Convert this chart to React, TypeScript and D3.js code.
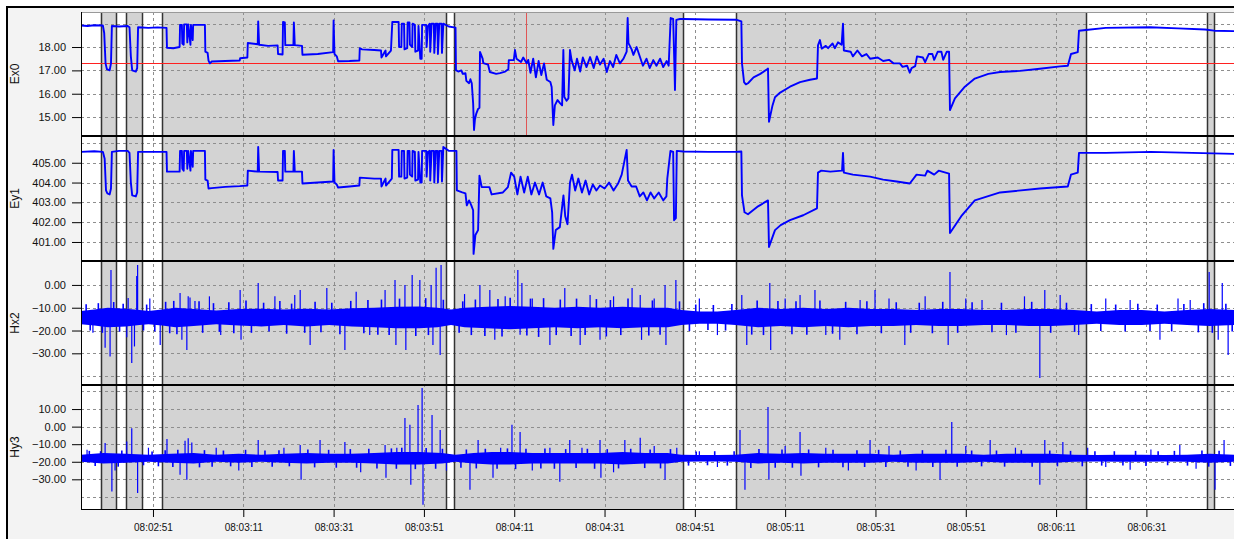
import React, { useEffect, useRef } from 'react';
import * as d3 from 'd3';

// time values are seconds after 08:02:00
const timeTickLabels = ['08:02:51', '08:03:11', '08:03:31', '08:03:51', '08:04:11', '08:04:31', '08:04:51', '08:05:11', '08:05:31', '08:05:51', '08:06:11', '08:06:31'];
const timeStart = 35.06;
const timeEnd = 290.4;

// gray (selected) segments [start, end]
const segments: [number, number][] = [[39.48, 42.81], [45.02, 48.56], [52.99, 115.89], [117.66, 168.37], [180.11, 257.62], [284.42, 285.97]];

const cursorTime = 133.6;
const cursorEx0 = 17.33;

const channelNames = ['Ex0', 'Ey1', 'Hx2', 'Hy3'];
const channelDomains: [number, number][] = [[14.19, 19.5], [400.04, 406.35], [-43.9, 10.5], [-46.9, 23.7]];
const channelGrid = [[19, 18, 17, 16, 15], [406, 405, 404, 403, 402, 401], [0, -10, -20, -30, -40], [20, 10, 0, -10, -20, -30, -40]];
const channelTicks = [[18, 17, 16, 15], [405, 404, 403, 402, 401], [0, -10, -20, -30], [10, 0, -10, -20, -30]];

const ex0Data: [number, number][] = [
  [35.06, 18.92], [36.5, 18.9], [38.0, 18.93], [39.9, 18.92], [40.2, 18.6], [40.5, 17.3], [40.8, 17.05], [41.4, 17.0], [41.7, 17.3], [41.9, 18.9],
  [43.5, 18.88], [45.4, 18.9], [45.8, 18.85], [46.1, 17.6], [46.4, 17.0], [47.2, 16.95], [47.5, 17.1], [47.7, 18.85], [50.0, 18.82], [52.0, 18.84],
  [54.0, 18.82], [54.1, 17.97], [55.5, 17.95], [56.9, 18.0], [57.0, 18.95], [57.4, 18.95], [57.5, 18.15], [57.8, 18.1], [57.9, 18.97], [58.5, 18.97],
  [58.6, 18.2], [58.8, 18.97], [59.3, 18.1], [59.4, 18.95], [59.8, 18.3], [59.9, 18.95], [62.5, 18.95], [62.6, 17.8], [63.1, 17.75], [63.3, 17.42],
  [63.6, 17.3], [64.0, 17.38], [67.0, 17.4], [70.2, 17.42], [70.3, 17.52], [71.9, 17.55], [72.0, 18.17], [74.2, 18.12], [74.3, 19.1], [74.5, 18.1],
  [76.5, 18.05], [78.6, 18.07], [78.7, 17.7], [79.7, 17.68], [79.8, 19.07], [80.2, 19.05], [80.3, 18.08], [82.1, 18.08], [82.2, 19.05], [82.4, 18.08],
  [84.0, 18.05], [84.1, 17.67], [87.5, 17.7], [90.9, 17.78], [91.0, 19.14], [91.2, 17.7], [91.7, 17.6], [92.0, 17.39], [94.5, 17.4], [96.7, 17.42],
  [96.8, 17.95], [97.3, 17.9], [100.0, 17.87], [101.5, 17.85], [101.6, 17.55], [102.5, 17.85], [102.6, 17.6], [103.7, 17.85], [104.0, 19.07], [105.4, 19.07],
  [105.5, 18.0], [106.0, 18.0], [106.1, 19.0], [106.6, 19.0], [106.7, 17.9], [107.3, 17.95], [107.4, 19.05], [107.8, 19.05], [107.9, 18.1], [108.4, 18.0],
  [108.5, 19.0], [109.0, 18.95], [109.1, 17.8], [109.7, 17.85], [109.8, 18.9], [110.2, 17.5], [110.5, 17.5], [110.6, 18.95], [111.5, 18.95], [111.6, 18.0],
  [111.9, 18.9], [112.3, 19.0], [112.4, 17.8], [112.7, 19.0], [113.2, 19.0], [113.3, 17.75], [113.6, 19.0], [114.0, 19.0], [114.1, 17.7], [114.4, 19.0],
  [114.9, 19.0], [115.0, 17.75], [115.3, 19.0], [116.5, 18.88], [118.0, 18.83], [118.1, 17.01], [118.6, 16.95], [119.3, 17.0], [119.6, 16.85], [120.2, 16.88],
  [120.4, 16.55], [121.0, 16.45], [121.3, 16.62], [121.6, 16.45], [121.9, 15.6], [122.1, 14.45], [122.3, 14.9], [122.6, 15.15], [123.0, 15.35], [123.3, 15.4],
  [123.42, 17.79], [124.0, 17.5], [124.15, 17.31], [125.2, 17.25], [125.6, 16.93], [127.0, 16.85], [127.85, 16.88], [129.0, 16.95], [129.7, 17.05], [129.8, 17.44],
  [130.9, 17.44], [131.17, 17.87], [131.5, 17.5], [132.5, 17.36], [133.0, 17.55], [133.76, 17.31], [134.1, 17.45], [134.6, 16.9], [135.2, 17.5], [135.8, 16.7],
  [136.4, 17.4], [137.0, 16.8], [137.6, 17.3], [138.2, 16.6], [139.0, 16.5], [139.29, 16.29], [139.66, 14.66], [140.0, 15.5], [140.6, 15.73], [141.14, 15.6],
  [141.6, 15.5], [141.88, 17.87], [142.1, 15.86], [142.6, 15.7], [143.0, 15.8], [143.35, 17.87], [143.7, 17.44], [144.4, 17.0], [144.9, 17.5], [145.6, 16.95],
  [146.2, 17.55], [147.0, 17.14], [147.8, 17.57], [148.6, 17.1], [149.3, 17.6], [150.0, 17.25], [150.8, 17.5], [151.5, 16.93], [152.2, 17.4], [152.9, 17.14],
  [153.6, 17.66], [154.4, 17.3], [155.2, 17.5], [155.9, 17.8], [156.12, 19.24], [156.3, 18.17], [157.0, 17.9], [157.4, 17.66], [158.1, 18.0], [158.85, 17.57],
  [159.5, 17.2], [160.3, 17.5], [161.0, 17.1], [161.8, 17.44], [162.5, 17.2], [163.3, 17.5], [164.0, 17.14], [164.76, 17.4], [165.2, 17.2], [165.65, 19.24],
  [166.2, 19.2], [166.5, 17.0], [166.6, 16.16], [166.9, 19.16], [167.7, 19.2], [168.45, 19.2], [174.0, 19.18], [180.1, 19.17], [181.3, 19.1], [181.44, 17.3],
  [181.9, 16.5], [182.3, 16.4], [182.77, 16.45], [184.0, 16.7], [185.5, 16.85], [187.0, 17.05], [187.2, 17.08], [187.42, 14.8], [188.2, 15.5], [188.75, 15.85],
  [189.9, 16.05], [192.07, 16.3], [194.3, 16.5], [196.5, 16.6], [198.05, 16.65], [198.27, 18.07], [198.7, 18.3], [199.1, 17.93], [200.0, 18.05], [200.5, 17.95],
  [201.5, 18.15], [202.0, 17.95], [202.7, 18.2], [203.5, 18.1], [203.81, 19.0], [204.0, 17.85], [205.5, 17.8], [206.0, 17.6], [207.0, 17.85], [208.0, 17.6],
  [209.0, 17.7], [209.8, 17.5], [211.5, 17.55], [212.7, 17.4], [214.0, 17.45], [215.0, 17.3], [216.4, 17.3], [217.0, 17.15], [218.0, 17.2], [218.6, 16.9],
  [219.0, 17.1], [219.8, 17.18], [220.2, 17.6], [221.5, 17.55], [222.0, 17.35], [222.8, 17.7], [223.6, 17.7], [224.0, 17.45], [224.8, 17.8], [225.6, 17.8],
  [226.0, 17.45], [226.8, 17.8], [227.3, 17.8], [227.5, 15.3], [228.6, 15.8], [230.8, 16.3], [233.0, 16.65], [236.0, 16.85], [238.6, 16.93], [243.0, 16.98],
  [247.4, 17.07], [251.9, 17.17], [253.6, 17.2], [254.3, 17.7], [255.8, 17.78], [256.07, 18.7], [257.6, 18.73], [262.0, 18.82], [271.8, 18.85], [278.0, 18.8],
  [284.0, 18.75], [286.0, 18.7], [290.4, 18.68],
];

const ey1Data: [number, number][] = [
  [35.06, 405.55], [38.0, 405.58], [39.9, 405.55], [40.3, 405.2], [40.6, 403.6], [40.9, 403.45], [41.4, 403.4], [41.7, 403.7], [41.9, 405.55], [43.5, 405.6],
  [45.4, 405.6], [45.8, 405.5], [46.1, 404.0], [46.4, 403.35], [47.2, 403.3], [47.5, 403.5], [47.7, 405.55], [51.0, 405.55], [54.0, 405.55], [54.1, 404.55],
  [56.9, 404.55], [57.0, 405.6], [57.4, 405.6], [57.5, 404.7], [57.8, 404.6], [57.9, 405.6], [58.5, 405.6], [58.6, 404.7], [58.8, 405.6], [59.3, 404.6],
  [59.4, 405.6], [59.8, 404.8], [59.9, 405.6], [62.5, 405.6], [62.6, 404.15], [63.1, 404.1], [63.3, 403.7], [64.0, 403.72], [67.0, 403.78], [70.2, 403.82],
  [71.9, 403.85], [72.0, 404.6], [74.2, 404.55], [74.3, 405.8], [74.5, 404.55], [78.6, 404.53], [78.7, 404.1], [79.7, 404.1], [79.8, 405.6], [80.2, 405.6],
  [80.3, 404.55], [82.1, 404.55], [82.2, 405.6], [82.4, 404.55], [84.0, 404.55], [84.1, 403.95], [87.5, 404.0], [90.9, 404.05], [91.0, 405.65], [91.2, 404.0],
  [91.7, 403.9], [92.0, 403.75], [94.5, 403.8], [96.7, 403.85], [96.8, 404.25], [100.0, 404.2], [101.5, 404.2], [101.6, 403.8], [102.5, 404.2], [102.6, 403.85],
  [103.9, 404.2], [104.0, 405.65], [105.4, 405.65], [105.5, 404.3], [106.0, 404.3], [106.1, 405.6], [106.6, 405.6], [106.7, 404.2], [107.3, 404.25], [107.4, 405.6],
  [107.8, 405.6], [107.9, 404.4], [108.4, 404.3], [108.5, 405.6], [109.0, 405.55], [109.1, 404.1], [109.7, 404.15], [109.8, 405.55], [110.2, 404.0], [110.5, 404.0],
  [110.6, 405.6], [111.5, 405.6], [111.6, 404.3], [111.9, 405.55], [112.3, 405.6], [112.4, 404.1], [112.7, 405.6], [113.2, 405.6], [113.3, 404.0], [113.6, 405.6],
  [114.0, 405.6], [114.1, 404.0], [114.4, 405.6], [114.9, 405.6], [115.0, 404.05], [115.3, 405.8], [116.5, 405.6], [118.2, 405.6], [118.3, 403.6], [119.5, 403.5],
  [120.2, 403.45], [120.5, 402.85], [121.0, 403.1], [121.5, 402.85], [121.9, 402.6], [122.0, 400.4], [122.4, 401.35], [123.0, 401.6], [123.3, 404.35], [123.8, 403.77],
  [125.5, 403.77], [126.0, 403.4], [128.5, 403.5], [129.6, 403.77], [130.3, 404.5], [131.0, 404.3], [131.7, 403.4], [132.4, 404.3], [133.2, 403.5], [134.0, 404.3],
  [134.8, 403.4], [135.6, 404.0], [136.5, 403.4], [137.3, 404.0], [138.1, 403.3], [139.0, 403.2], [139.4, 402.5], [139.66, 400.65], [140.2, 401.6], [141.1, 401.75],
  [141.9, 403.35], [142.3, 402.3], [142.8, 401.9], [143.35, 404.0], [143.8, 404.4], [144.5, 403.6], [145.2, 404.2], [146.0, 403.5], [146.8, 404.1], [147.6, 403.4],
  [148.4, 403.9], [149.2, 403.6], [150.0, 403.85], [151.0, 403.7], [152.0, 404.0], [153.0, 403.6], [154.0, 403.95], [154.8, 404.4], [155.9, 405.65], [156.2, 404.1],
  [157.0, 403.8], [158.0, 403.8], [158.8, 403.3], [159.6, 403.5], [160.4, 403.1], [161.2, 403.5], [162.0, 403.2], [163.0, 403.5], [164.0, 403.1], [164.7, 403.3],
  [164.9, 404.2], [165.6, 405.6], [166.2, 405.55], [166.4, 402.1], [166.8, 402.2], [167.0, 405.6], [168.4, 405.57], [174.0, 405.55], [180.1, 405.55], [181.3, 405.57],
  [181.44, 403.35], [182.0, 402.5], [182.77, 402.4], [185.0, 402.8], [187.2, 403.1], [187.42, 400.75], [188.75, 401.6], [190.0, 401.85], [192.07, 402.1], [195.0, 402.35],
  [198.05, 402.7], [198.27, 404.5], [199.0, 404.6], [201.0, 404.55], [203.6, 404.6], [203.81, 405.5], [204.0, 404.5], [206.0, 404.4], [209.8, 404.3], [212.7, 404.15],
  [215.7, 404.05], [218.6, 403.95], [220.1, 404.4], [222.0, 404.35], [222.5, 404.6], [224.0, 404.4], [225.0, 404.6], [227.3, 404.45], [227.5, 401.45], [230.0, 402.3],
  [233.0, 403.1], [238.6, 403.5], [247.4, 403.7], [253.6, 403.8], [254.3, 404.4], [255.8, 404.5], [256.07, 405.5], [262.0, 405.5], [272.0, 405.55], [290.4, 405.45],
];

// noise envelope [time, low, high]
const hx2Band: [number, number, number][] = [
  [35.06, -17.2, -11.4], [38, -17.8, -10.8], [41, -18.6, -10], [45, -18.2, -10.4], [48, -17.6, -11], [50, -17.2, -11.4], [53, -17.8, -10.8], [56, -18.6, -10],
  [60, -18, -10.6], [65, -17.2, -11.2], [70, -17.8, -10.6], [75, -18.2, -10.4], [80, -17.6, -10.8], [85, -18.2, -10.4], [90, -17.6, -10.8], [95, -18.2, -10.2],
  [100, -18.6, -10], [105, -19, -9.6], [110, -19, -9.5], [114, -18.6, -10], [117, -17.6, -10.8], [120, -18.6, -10], [125, -19, -9.6], [130, -19.4, -9.2],
  [135, -19, -9.6], [140, -18.6, -10], [145, -19, -9.6], [150, -18.6, -10], [155, -19, -9.6], [160, -18.6, -10], [165, -18.6, -10], [168, -17.6, -11],
  [172, -17, -11.6], [176, -17, -11.6], [180, -17.6, -11], [185, -18.6, -10], [190, -18, -10.6], [195, -18.6, -10], [200, -18, -10.6], [205, -18.6, -10],
  [210, -18, -10.6], [215, -18, -10.6], [220, -17.6, -11], [225, -18, -10.6], [230, -18, -10.6], [235, -17.6, -11], [240, -17.6, -11], [245, -18, -10.6],
  [250, -18, -10.6], [255, -17.6, -11], [260, -17, -11.6], [265, -17.6, -11], [270, -17.6, -11], [275, -17, -11.6], [280, -17.6, -11], [285, -18, -10.6],
  [290.4, -17.6, -11],
];
const hx2Spikes: [number, number][] = [
  [37.7, -21], [40.4, -27.6], [41.5, -31.4], [41.7, 6.6], [45.2, -23], [45.5, -5.7], [46.3, -34.2], [46.9, -27], [47.4, 3.9], [47.6, 8.8],
  [50.3, -6], [52.6, -26.3], [57.0, -3.5], [57.4, -24], [58.5, -28.5], [58.8, -5], [59.2, -5.5], [60.3, -7], [63.5, -5], [66, -22],
  [70.3, -2.2], [70.5, -24.1], [74.3, 0.9], [78, -5], [82.4, -4.4], [83.6, -2.2], [85.8, -26.3], [89.5, -1.3], [93.5, -28.5], [96, -3],
  [99, -22], [102.4, -2.2], [104.6, 2.2], [104.8, -26.3], [106.8, 0], [107.0, -28.5], [108.4, 4.4], [110.1, 2.2], [112.6, 0], [113.0, -26.3],
  [113.7, 7.5], [114.6, -30.7], [114.8, 8.8], [120, -4], [123.4, 0], [125.6, -2.2], [126.7, -24.1], [129, -5], [131.8, 6.6], [132.3, -21.9],
  [132.7, 0.9], [135, -6], [138.9, -26.3], [142.2, -1.3], [145.6, -26.3], [147.8, -4.4], [150.0, -24.1], [153, -5], [157.1, -1.3], [158.9, -4.4],
  [159.2, -24.1], [162, -6], [164.4, 0], [164.6, -26.3], [166.8, 2.2], [172, -6], [176, -22], [181.4, -4.4], [182.5, -26.3], [187.6, 0.9],
  [187.8, -28.5], [191, -6], [194.3, -4.4], [197.6, -2.2], [200, -22], [203.1, -24.1], [207.6, -6.6], [210.9, -2.2], [214, -6], [217.5, -26.3],
  [222, -5], [227.1, -26.3], [227.5, 5.7], [231, -6], [234.6, -6.6], [240, -22], [244, -5], [247.4, -40.8], [248.5, -2.2], [251.9, -4.4],
  [256, -22], [262, -6], [267.4, -6.6], [274.0, -24.1], [278, -6], [280.7, -6.6], [284.9, 5.7], [286.9, -24.1], [287.8, 0.9], [289.1, -30.7],
];
// short excursions just outside the noise band
const hx2Ripple: [number, number][] = [
  [36.2, -8.5], [37.1, -20], [38.9, -8], [39.8, -21], [42.3, -7.5], [43.6, -20.5], [44.4, -8.2], [48.9, -20], [49.6, -8.6], [51.4, -20.4],
  [53.8, -7.4], [54.7, -21.2], [55.6, -7], [56.3, -21.6], [61.2, -7.2], [62.0, -21], [64.4, -8], [65.7, -20.6], [67.8, -7.6], [68.9, -21.2],
  [71.6, -6.8], [72.8, -21], [75.5, -7.8], [76.7, -20.4], [79.1, -7], [80.6, -21.4], [81.7, -8.2], [84.6, -21], [86.9, -7.4], [88.2, -20.8],
  [90.6, -7.8], [92.4, -21.6], [94.8, -7], [97.7, -21.2], [98.6, -6.6], [100.8, -21.8], [101.6, -6.4], [103.3, -22], [105.6, -6], [109.2, -22.4],
  [111.4, -5.8], [112.0, -22], [115.3, -6.5], [118.8, -21], [119.6, -7.2], [121.5, -22], [122.4, -6.4], [124.5, -22.4], [127.4, -6.2], [128.3, -22.6],
  [130.1, -5.6], [133.8, -22.2], [134.6, -6], [136.4, -22.8], [137.5, -5.8], [140.3, -22], [141.2, -6.4], [143.6, -22.4], [144.8, -6], [146.7, -22],
  [149.2, -6.2], [151.4, -22.6], [152.3, -6.6], [154.6, -22], [156.2, -6], [160.8, -22.2], [161.6, -6.8], [163.3, -21.8], [167.6, -7.2], [169.8, -20.2],
  [171.2, -8.6], [173.9, -19.8], [175.1, -8.8], [177.8, -20], [179.2, -8.4], [183.6, -21.8], [184.8, -6.8], [186.2, -22], [189.4, -7], [192.5, -21.6],
  [193.4, -7.2], [195.8, -21.8], [198.7, -6.8], [201.5, -21.4], [204.4, -7.4], [206.9, -21.6], [209.1, -7.2], [212.3, -21.2], [215.6, -7.6], [218.8, -21],
  [220.7, -7.8], [223.6, -21.2], [225.9, -7.4], [229.2, -21], [232.4, -7.6], [236.8, -20.8], [238.9, -7.8], [242.1, -21], [245.6, -7.4], [249.8, -21],
  [253.3, -7.8], [255.1, -20.6], [258.8, -8.4], [260.9, -20.2], [264.2, -8.6], [266.3, -20.4], [269.1, -8.2], [271.8, -20.2], [273.4, -8.6], [276.6, -20.4],
  [279.3, -8.4], [282.5, -20.8], [283.7, -8], [285.6, -21], [288.6, -8.2], [290.0, -20.4],
];
const hx2Center = -14.2;

const hy3Band: [number, number, number][] = [
  [35.06, -20, -16], [40, -21, -15], [45, -20.5, -15.5], [50, -20, -16], [55, -20.5, -15.5], [60, -21, -15], [65, -20, -16], [70, -20.5, -15.5],
  [75, -20, -16], [80, -20.5, -15.5], [85, -21, -15], [90, -20.5, -15.5], [95, -20.5, -15.5], [100, -21, -15], [105, -21.5, -14.5], [110, -21.5, -14.5],
  [115, -21, -15], [118, -20, -16], [122, -21, -15], [126, -21.5, -14.5], [130, -21.5, -14.5], [135, -21, -15], [140, -21, -15], [145, -21, -15],
  [150, -21, -15], [155, -21.5, -14.5], [160, -21, -15], [165, -21, -15], [168, -20, -16], [172, -19.8, -16.2], [176, -19.8, -16.2], [180, -20, -16],
  [185, -21, -15], [190, -20.5, -15.5], [195, -21, -15], [200, -20.5, -15.5], [205, -20.5, -15.5], [210, -20.5, -15.5], [215, -20, -16], [220, -20.5, -15.5],
  [225, -20.5, -15.5], [230, -20.5, -15.5], [235, -20, -16], [240, -20.5, -15.5], [245, -20.5, -15.5], [250, -20.5, -15.5], [255, -20, -16], [260, -19.8, -16.2],
  [265, -20, -16], [270, -20, -16], [275, -19.8, -16.2], [280, -20, -16], [285, -20.5, -15.5], [290.4, -20, -16],
];
const hy3Spikes: [number, number][] = [
  [36.4, -13.2], [40.4, -9.3], [41.9, -36.9], [42.6, -25], [45.2, -8.5], [46.3, -0.9], [47.6, -37.8], [50, -12], [54.1, -7], [57.0, -27.4],
  [58.1, -8], [58.5, -30.3], [58.8, -6.6], [59.6, -9], [65, -12], [70, -25], [74.3, -7.6], [80, -12], [83.6, -10.4], [83.8, -30.3],
  [88.0, -7.6], [93.5, -8.7], [97, -26], [102.4, -10.4], [102.6, -29.1], [105, -12], [106.8, 4.9], [107.9, 1.0], [108.1, -33.1], [109.7, 12.3],
  [110.6, 22], [110.8, -44.5], [112.8, 6.6], [114.6, -1.9], [116, -25], [121.2, -36], [123.0, -7.6], [126.3, -29.1], [128, -12], [130.5, 1.0],
  [132.3, -3.0], [135, -25], [138.9, -12], [141.1, -31.4], [143.3, -7.6], [146, -12], [150.0, -7.6], [150.2, -29.1], [153, -26], [155.5, -7.6],
  [158.9, -6.4], [162, -11], [164.4, -30.3], [167, -12], [172, -14], [176, -23], [181.0, -1.9], [182.1, -36], [187.2, 11.2], [187.4, -30.3],
  [191, -11], [194.3, -3.0], [194.5, -28.0], [200, -12], [205, -25], [209.8, -7.6], [214, -11], [220, -25], [225.3, -30.3], [227.9, 2.7],
  [231, -11], [236.4, -7.6], [242, -12], [247.4, -33.1], [248.5, -7.6], [252.5, -8.7], [258, -12], [262, -23], [267.4, -24.6], [272, -13],
  [278.4, -10.4], [282, -24], [286.2, -36], [288.2, -7.6],
];
const hy3Ripple: [number, number][] = [
  [36.9, -13.8], [38.2, -22.4], [39.4, -14], [43.3, -22.8], [44.1, -13.6], [48.9, -22], [50.8, -14.2], [52.2, -22.6], [53.7, -13.4], [55.4, -23],
  [56.5, -13.2], [61.3, -23.2], [62.4, -13.4], [64.1, -22.8], [66.6, -13.6], [68.2, -22.6], [71.5, -13.2], [72.9, -23], [75.8, -13.6], [77.4, -22.8],
  [78.9, -13.4], [81.2, -22.6], [85.3, -13], [86.8, -23.2], [89.9, -13.2], [91.6, -23.4], [94.7, -12.8], [96.1, -23.4], [98.8, -12.6], [100.6, -23.8],
  [103.8, -12.4], [104.9, -24], [106.1, -12], [109.1, -24.2], [111.5, -12.2], [113.6, -24], [115.1, -12.6], [119.2, -23.4], [120.4, -13], [122.6, -23.8],
  [124.6, -12.6], [127.2, -24], [129.5, -12.4], [131.3, -24.2], [133.6, -12.6], [136.9, -23.8], [137.8, -12.4], [139.9, -24], [142.4, -12.8], [144.7, -23.6],
  [147.2, -12.6], [148.8, -24], [151.6, -12.8], [154.1, -23.8], [156.8, -12.6], [159.9, -23.6], [161.1, -13], [163.4, -23.8], [165.6, -12.8], [169.6, -22.2],
  [171.3, -14.2], [173.8, -22], [175.4, -14], [178.2, -22.2], [179.7, -14], [183.4, -23.6], [185.2, -12.8], [188.8, -23.4], [190.3, -13], [192.6, -23.4],
  [196.2, -13], [198.4, -23.2], [201.6, -13.2], [203.8, -23.2], [206.9, -13.4], [208.6, -23], [211.7, -13.2], [213.3, -23], [216.5, -13.6], [218.2, -22.8],
  [221.4, -13.4], [223.7, -23], [226.6, -13.2], [229.1, -22.8], [232.3, -13.6], [234.5, -22.6], [237.8, -13.6], [239.6, -22.8], [243.3, -13.4], [245.7, -22.8],
  [249.6, -13.6], [251.3, -22.6], [254.2, -13.8], [256.8, -22.6], [259.6, -14], [261.1, -22.2], [263.9, -14], [265.8, -22.2], [268.6, -13.8], [270.9, -22.4],
  [273.6, -14], [275.7, -22], [277.2, -13.8], [280.1, -22.2], [283.3, -13.6], [284.8, -22.8], [287.1, -13.8], [289.6, -22.4],
];
const hy3Center = -18;

const W = 1234;
const H = 539;
const plotLeft = 81;
const plotRight = 1234;
const panelEdges = [12, 136, 261, 385, 509];
const FONT = '"Liberation Sans", Arial, sans-serif';
const BLUE = '#0000ff';

function toSeconds(label: string) {
  const [h, m, s] = label.split(':').map(Number);
  return (h - 8) * 3600 + (m - 2) * 60 + s;
}

export default function App() {
  const svgRef = useRef<SVGSVGElement | null>(null);

  useEffect(() => {
    const svg = d3.select(svgRef.current);
    svg.selectAll('*').remove();

    const x = d3.scaleLinear().domain([timeStart, timeEnd]).range([plotLeft, plotRight]);
    const tickSecs = timeTickLabels.map(toSeconds);
    const top = panelEdges[0];
    const bottom = panelEdges[panelEdges.length - 1];

    // background + frame
    svg.append('rect').attr('width', W).attr('height', H).attr('fill', '#ffffff');
    svg.append('rect').attr('x', 7).attr('y', 7).attr('width', W - 7).attr('height', H - 7).attr('fill', '#f3f3f3');
    svg.append('line').attr('x1', 7).attr('x2', 7).attr('y1', 6).attr('y2', H).attr('stroke', '#000').attr('stroke-width', 2);
    svg.append('line').attr('x1', 6).attr('x2', W).attr('y1', 7).attr('y2', 7).attr('stroke', '#000').attr('stroke-width', 2);

    // plot area
    svg.append('rect').attr('x', plotLeft).attr('y', top).attr('width', plotRight - plotLeft).attr('height', bottom - top).attr('fill', '#ffffff');

    svg.append('g').selectAll('rect').data(segments).join('rect')
      .attr('x', d => x(d[0])).attr('y', top)
      .attr('width', d => x(d[1]) - x(d[0])).attr('height', bottom - top)
      .attr('fill', '#d3d3d3');

    const ys = channelNames.map((_, i) =>
      d3.scaleLinear().domain(channelDomains[i]).range([panelEdges[i + 1], panelEdges[i]]));

    // grid
    const grid = svg.append('g').attr('stroke', '#8e8e8e').attr('stroke-dasharray', '3,3').attr('stroke-width', 1);
    channelNames.forEach((_, i) => {
      grid.append('g').selectAll('line').data(channelGrid[i]).join('line')
        .attr('x1', plotLeft).attr('x2', plotRight)
        .attr('y1', d => Math.round(ys[i](d)) + 0.5).attr('y2', d => Math.round(ys[i](d)) + 0.5);
    });
    grid.append('g').selectAll('line').data(tickSecs).join('line')
      .attr('x1', d => Math.round(x(d)) + 0.5).attr('x2', d => Math.round(x(d)) + 0.5)
      .attr('y1', top).attr('y2', bottom);

    // segment borders
    const edges = segments.flatMap(s => s);
    svg.append('g').selectAll('line').data(edges).join('line')
      .attr('x1', d => Math.round(x(d)) + 0.5).attr('x2', d => Math.round(x(d)) + 0.5)
      .attr('y1', top).attr('y2', bottom)
      .attr('stroke', '#333').attr('stroke-width', 1.5);

    // clip paths
    const defs = svg.append('defs');
    channelNames.forEach((name, i) => {
      defs.append('clipPath').attr('id', `clip-${name}`).append('rect')
        .attr('x', plotLeft).attr('y', panelEdges[i]).attr('width', plotRight - plotLeft).attr('height', panelEdges[i + 1] - panelEdges[i]);
    });

    // cursor (horizontal value line sits under the trace)
    const cy = Math.round(ys[0](cursorEx0)) + 0.5;
    svg.append('line')
      .attr('x1', plotLeft).attr('x2', plotRight)
      .attr('y1', cy).attr('y2', cy)
      .attr('stroke', '#ff2020').attr('stroke-width', 1.4)
      .attr('shape-rendering', 'crispEdges');
    svg.append('line')
      .attr('x1', Math.round(x(cursorTime)) + 0.5).attr('x2', Math.round(x(cursorTime)) + 0.5)
      .attr('y1', panelEdges[0]).attr('y2', panelEdges[1])
      .attr('stroke', '#e05555').attr('stroke-width', 1);

    // Ex0 & Ey1 traces
    [ex0Data, ey1Data].forEach((data, i) => {
      const line = d3.line<[number, number]>().x(d => x(d[0])).y(d => ys[i](d[1]));
      svg.append('path').datum(data)
        .attr('clip-path', `url(#clip-${channelNames[i]})`)
        .attr('fill', 'none').attr('stroke', BLUE).attr('stroke-width', 1.9)
        .attr('stroke-linejoin', 'round')
        .attr('d', line);
    });

    // Hx2 & Hy3 noise
    const noise = [
      { band: hx2Band, spikes: hx2Spikes, ripple: hx2Ripple, center: hx2Center },
      { band: hy3Band, spikes: hy3Spikes, ripple: hy3Ripple, center: hy3Center },
    ];
    noise.forEach((n, k) => {
      const i = k + 2;
      const y = ys[i];
      const g = svg.append('g').attr('clip-path', `url(#clip-${channelNames[i]})`);
      const area = d3.area<[number, number, number]>().x(d => x(d[0])).y0(d => y(d[1])).y1(d => y(d[2]));
      g.append('path').datum(n.band).attr('fill', BLUE).attr('d', area);
      g.append('g').selectAll('line').data(n.ripple).join('line')
        .attr('x1', d => x(d[0])).attr('x2', d => x(d[0]))
        .attr('y1', y(n.center)).attr('y2', d => y(d[1]))
        .attr('stroke', BLUE).attr('stroke-width', 1.6);
      g.append('g').selectAll('line').data(n.spikes).join('line')
        .attr('x1', d => x(d[0])).attr('x2', d => x(d[0]))
        .attr('y1', y(n.center)).attr('y2', d => y(d[1]))
        .attr('stroke', BLUE).attr('stroke-width', 1.2);
    });

    // panel separators and border
    svg.append('g').selectAll('line').data(panelEdges.slice(1, -1)).join('line')
      .attr('x1', plotLeft).attr('x2', plotRight).attr('y1', d => d).attr('y2', d => d)
      .attr('stroke', '#000').attr('stroke-width', 2);
    svg.append('line').attr('x1', plotLeft).attr('x2', plotRight).attr('y1', top + 0.5).attr('y2', top + 0.5).attr('stroke', '#999');
    svg.append('line').attr('x1', plotLeft).attr('x2', plotRight).attr('y1', bottom + 0.5).attr('y2', bottom + 0.5).attr('stroke', '#000');
    svg.append('line').attr('x1', plotLeft + 0.5).attr('x2', plotLeft + 0.5).attr('y1', top).attr('y2', bottom + 1).attr('stroke', '#000');

    // y axes
    channelNames.forEach((name, i) => {
      const ax = svg.append('g').attr('transform', `translate(${plotLeft},0)`)
        .call(d3.axisLeft(ys[i]).tickValues(channelTicks[i]).tickFormat(d => d3.format('.2f')(d as number)).tickSize(9).tickPadding(6));
      ax.select('.domain').remove();
      ax.selectAll('.tick line').attr('stroke', '#000');
      ax.selectAll('.tick text').attr('font-family', FONT).attr('font-size', 11).attr('fill', '#111');
      const mid = (panelEdges[i] + panelEdges[i + 1]) / 2;
      svg.append('text')
        .attr('transform', `translate(15,${mid}) rotate(-90)`)
        .attr('text-anchor', 'middle').attr('dominant-baseline', 'central')
        .attr('font-family', FONT).attr('font-size', 12).attr('fill', '#111')
        .text(name);
    });

    // time axis
    const xa = svg.append('g').attr('transform', `translate(0,${bottom})`)
      .call(d3.axisBottom(x).tickValues(tickSecs).tickFormat((_, i) => timeTickLabels[i]).tickSize(8).tickPadding(7));
    xa.select('.domain').remove();
    xa.selectAll('.tick line').attr('stroke', '#000');
    xa.selectAll('.tick text').attr('font-family', FONT).attr('font-size', 10).attr('fill', '#111');
  }, []);

  return (
    <svg ref={svgRef} width={W} height={H} style={{ position: 'absolute', left: 0, top: 0, display: 'block' }}></svg>
  );
}
